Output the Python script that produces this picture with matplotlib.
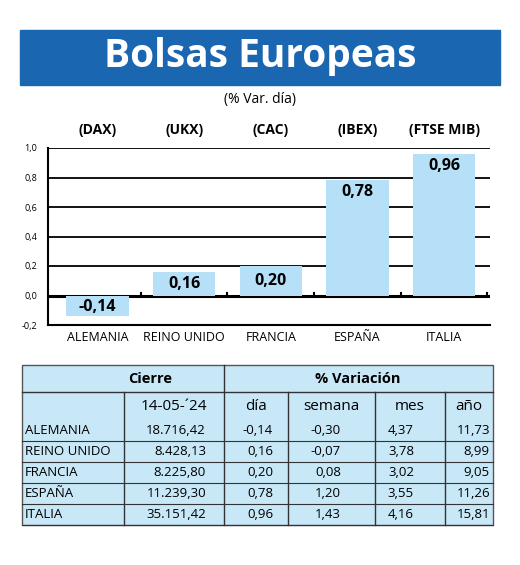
import matplotlib.pyplot as plt
from matplotlib.patches import Rectangle

paises = ['ALEMANIA', 'REINO UNIDO', 'FRANCIA', 'ESPAÑA', 'ITALIA']
indices = ['(DAX)', '(UKX)', '(CAC)', '(IBEX)', '(FTSE MIB)']
var_dia = [-0.14, 0.16, 0.20, 0.78, 0.96]
cierre = ['18.716,42', '8.428,13', '8.225,80', '11.239,30', '35.151,42']
dia = ['-0,14', '0,16', '0,20', '0,78', '0,96']
semana = ['-0,30', '-0,07', '0,08', '1,20', '1,43']
mes = ['4,37', '3,78', '3,02', '3,55', '4,16']
anio = ['11,73', '8,99', '9,05', '11,26', '15,81']

plt.rcParams['font.family'] = ['Open Sans', 'DejaVu Sans']
W, H = 520, 565
fig = plt.figure(figsize=(W / 100, H / 100), dpi=100)

# fondo en pixeles
bg = fig.add_axes([0, 0, 1, 1])
bg.set_xlim(0, W)
bg.set_ylim(H, 0)
bg.axis('off')
bg.add_patch(Rectangle((20, 30), 480, 55, color='#1a66b0'))
bg.text(260, 57, 'Bolsas Europeas', color='white', fontsize=28, fontweight='bold',
        ha='center', va='center')
bg.text(260, 99, '(% Var. día)', fontsize=10, ha='center', va='center')

# grafico
ax = fig.add_axes([48 / W, 1 - 325 / H, 442 / W, 177 / H])
x = list(range(len(paises)))
ax.set_xlim(-0.57, 4.53)
ax.set_ylim(-0.2, 1.0)
for y in [0.2, 0.4, 0.6, 0.8, 1.0]:
    ax.axhline(y, color='black', lw=1.3, zorder=1)
ax.axhline(0, color='black', lw=2.2, zorder=1)
ax.bar(x, var_dia, width=0.72, color='#b5e0f7', zorder=2)
for xi, v in zip(x, var_dia):
    ytxt = v - 0.08 if v > 0.3 else (v / 2 if v > 0 else v / 2 - 0.01)
    ax.text(xi, ytxt, f'{v:.2f}'.replace('.', ','), ha='center', va='center',
            fontsize=11.5, fontweight='bold', zorder=4)
for xi in x:
    ax.plot([xi + 0.5, xi + 0.5], [0, 0.02], color='black', lw=1.5, zorder=3)
ax.set_yticks([-0.2, 0, 0.2, 0.4, 0.6, 0.8, 1.0])
ax.set_yticklabels(['-0,2', '0,0', '0,2', '0,4', '0,6', '0,8', '1,0'], fontsize=6.5)
ax.tick_params(axis='y', length=0, pad=8)
ax.set_xticks(x)
ax.set_xticklabels(paises, fontsize=9)
ax.tick_params(axis='x', length=0, pad=4)
for s in ['top', 'right']:
    ax.spines[s].set_visible(False)
ax.spines['left'].set_linewidth(1.5)
ax.spines['bottom'].set_linewidth(1.5)
for xi, t in zip(x, indices):
    ax.text(xi, 1.12, t, ha='center', va='center', fontsize=10, fontweight='bold')

# tabla
bg.add_patch(Rectangle((22, 365), 471, 160, facecolor='#c8e8f7', edgecolor='#555555', lw=1))
bg.plot([22, 493], [392, 392], color='#333333', lw=1)
bg.plot([224, 224], [365, 525], color='#333333', lw=1)
for cx in [124, 288, 375, 445]:
    bg.plot([cx, cx], [392, 525], color='#333333', lw=1)
bg.text(150, 379, 'Cierre', ha='center', va='center', fontsize=10.5, fontweight='bold')
bg.text(358, 379, '% Variación', ha='center', va='center', fontsize=10.5, fontweight='bold')
heads = [('14-05-´24', 174), ('día', 256), ('semana', 331), ('mes', 410), ('año', 469)]
for t, cx in heads:
    bg.text(cx, 406, t, ha='center', va='center', fontsize=11)
cols = [(cierre, 206), (dia, 273), (semana, 341), (mes, 414), (anio, 490)]
for i, p in enumerate(paises):
    yc = 420 + 21 * i + 10.5
    bg.text(25, yc, p, ha='left', va='center', fontsize=9.5)
    for vals, rx in cols:
        bg.text(rx, yc, vals[i], ha='right', va='center', fontsize=9.5)
    bg.plot([22, 493], [420 + 21 * (i + 1), 420 + 21 * (i + 1)], color='#333333', lw=0.8)

fig.savefig('out.png', dpi=100, facecolor='white')
